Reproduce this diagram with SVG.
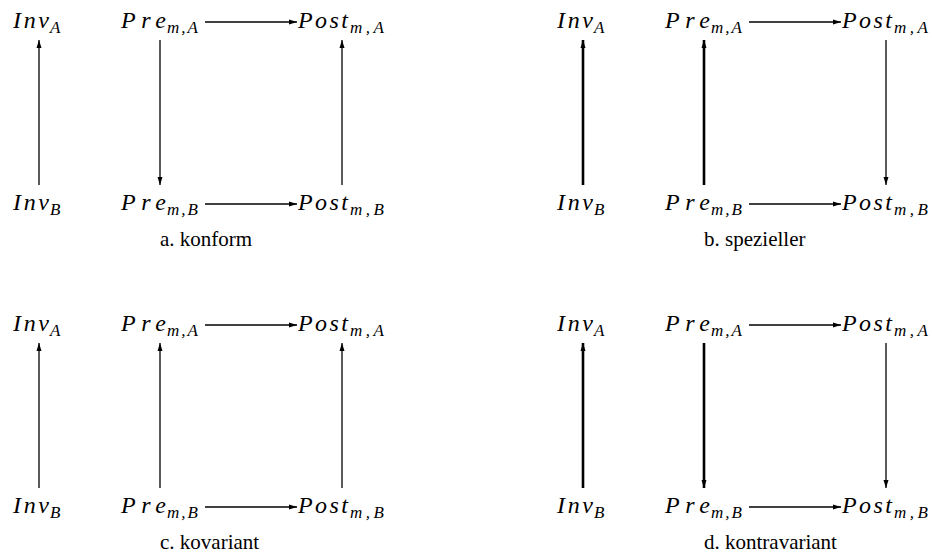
<svg xmlns="http://www.w3.org/2000/svg" width="932" height="558" viewBox="0 0 932 558">
<style>
.m{font-style:italic;font-size:24px;fill:#000}
.s{font-style:italic;font-size:17px;fill:#000}
.cap{font-size:21px;fill:#000}
.thin{stroke:#000;stroke-width:1.3;fill:none;marker-end:url(#ah)}
.thick{stroke:#000;stroke-width:2.6;fill:none;marker-end:url(#ah)}
</style>
<defs>
<marker id="ah" markerUnits="userSpaceOnUse" markerWidth="9" markerHeight="6" refX="8" refY="3" orient="auto" viewBox="0 0 9 6"><path d="M0,0.5 L8,3 L0,5.5 z" fill="#000"/></marker>
</defs>
<g font-family="Liberation Serif, Times New Roman, Times, serif">
<!-- Panel a -->
<g id="panel-a">
<g id="a-invA"><text class="m" x="13" y="28" textLength="36">Inv</text><text class="s" x="50" y="33">A</text></g>
<g id="a-preA"><text class="m" x="121" y="28" textLength="45">Pre</text><text class="s" x="167" y="33" textLength="31">m,A</text></g>
<g id="a-postA"><text class="m" x="298" y="28" textLength="50">Post</text><text class="s" x="350" y="33" textLength="34">m,A</text></g>
<g id="a-invB"><text class="m" x="13" y="210" textLength="36">Inv</text><text class="s" x="50" y="215">B</text></g>
<g id="a-preB"><text class="m" x="121" y="210" textLength="45">Pre</text><text class="s" x="167" y="215" textLength="31">m,B</text></g>
<g id="a-postB"><text class="m" x="298" y="210" textLength="50">Post</text><text class="s" x="350" y="215" textLength="34">m,B</text></g>
<g id="a-edges">
<line class="thin" x1="205" y1="22" x2="297" y2="22"/>
<line class="thin" x1="205" y1="204" x2="297" y2="204"/>
<line class="thin" x1="39" y1="185" x2="39" y2="40"/>
<line class="thin" x1="160" y1="40" x2="160" y2="185"/>
<line class="thin" x1="342" y1="185" x2="342" y2="40"/>
</g>
<text class="cap" x="160" y="246">a. konform</text>
</g>

<!-- Panel b -->
<g id="panel-b" transform="translate(544,0)">
<g id="b-invA"><text class="m" x="13" y="28" textLength="36">Inv</text><text class="s" x="50" y="33">A</text></g>
<g id="b-preA"><text class="m" x="121" y="28" textLength="45">Pre</text><text class="s" x="167" y="33" textLength="31">m,A</text></g>
<g id="b-postA"><text class="m" x="298" y="28" textLength="50">Post</text><text class="s" x="350" y="33" textLength="34">m,A</text></g>
<g id="b-invB"><text class="m" x="13" y="210" textLength="36">Inv</text><text class="s" x="50" y="215">B</text></g>
<g id="b-preB"><text class="m" x="121" y="210" textLength="45">Pre</text><text class="s" x="167" y="215" textLength="31">m,B</text></g>
<g id="b-postB"><text class="m" x="298" y="210" textLength="50">Post</text><text class="s" x="350" y="215" textLength="34">m,B</text></g>
<g id="b-edges">
<line class="thin" x1="205" y1="22" x2="297" y2="22"/>
<line class="thin" x1="205" y1="204" x2="297" y2="204"/>
<line class="thick" x1="39" y1="185" x2="39" y2="40"/>
<line class="thick" x1="160" y1="185" x2="160" y2="40"/>
<line class="thin" x1="342" y1="40" x2="342" y2="185"/>
</g>
<text class="cap" x="160" y="246">b. spezieller</text>
</g>

<!-- Panel c -->
<g id="panel-c" transform="translate(0,303)">
<g id="c-invA"><text class="m" x="13" y="28" textLength="36">Inv</text><text class="s" x="50" y="33">A</text></g>
<g id="c-preA"><text class="m" x="121" y="28" textLength="45">Pre</text><text class="s" x="167" y="33" textLength="31">m,A</text></g>
<g id="c-postA"><text class="m" x="298" y="28" textLength="50">Post</text><text class="s" x="350" y="33" textLength="34">m,A</text></g>
<g id="c-invB"><text class="m" x="13" y="210" textLength="36">Inv</text><text class="s" x="50" y="215">B</text></g>
<g id="c-preB"><text class="m" x="121" y="210" textLength="45">Pre</text><text class="s" x="167" y="215" textLength="31">m,B</text></g>
<g id="c-postB"><text class="m" x="298" y="210" textLength="50">Post</text><text class="s" x="350" y="215" textLength="34">m,B</text></g>
<g id="c-edges">
<line class="thin" x1="205" y1="22" x2="297" y2="22"/>
<line class="thin" x1="205" y1="204" x2="297" y2="204"/>
<line class="thin" x1="39" y1="185" x2="39" y2="40"/>
<line class="thin" x1="160" y1="185" x2="160" y2="40"/>
<line class="thin" x1="342" y1="185" x2="342" y2="40"/>
</g>
<text class="cap" x="160" y="246">c. kovariant</text>
</g>

<!-- Panel d -->
<g id="panel-d" transform="translate(544,303)">
<g id="d-invA"><text class="m" x="13" y="28" textLength="36">Inv</text><text class="s" x="50" y="33">A</text></g>
<g id="d-preA"><text class="m" x="121" y="28" textLength="45">Pre</text><text class="s" x="167" y="33" textLength="31">m,A</text></g>
<g id="d-postA"><text class="m" x="298" y="28" textLength="50">Post</text><text class="s" x="350" y="33" textLength="34">m,A</text></g>
<g id="d-invB"><text class="m" x="13" y="210" textLength="36">Inv</text><text class="s" x="50" y="215">B</text></g>
<g id="d-preB"><text class="m" x="121" y="210" textLength="45">Pre</text><text class="s" x="167" y="215" textLength="31">m,B</text></g>
<g id="d-postB"><text class="m" x="298" y="210" textLength="50">Post</text><text class="s" x="350" y="215" textLength="34">m,B</text></g>
<g id="d-edges">
<line class="thin" x1="205" y1="22" x2="297" y2="22"/>
<line class="thin" x1="205" y1="204" x2="297" y2="204"/>
<line class="thick" x1="39" y1="185" x2="39" y2="40"/>
<line class="thick" x1="160" y1="40" x2="160" y2="185"/>
<line class="thin" x1="342" y1="40" x2="342" y2="185"/>
</g>
<text class="cap" x="160" y="246">d. kontravariant</text>
</g>
</g>
</svg>
